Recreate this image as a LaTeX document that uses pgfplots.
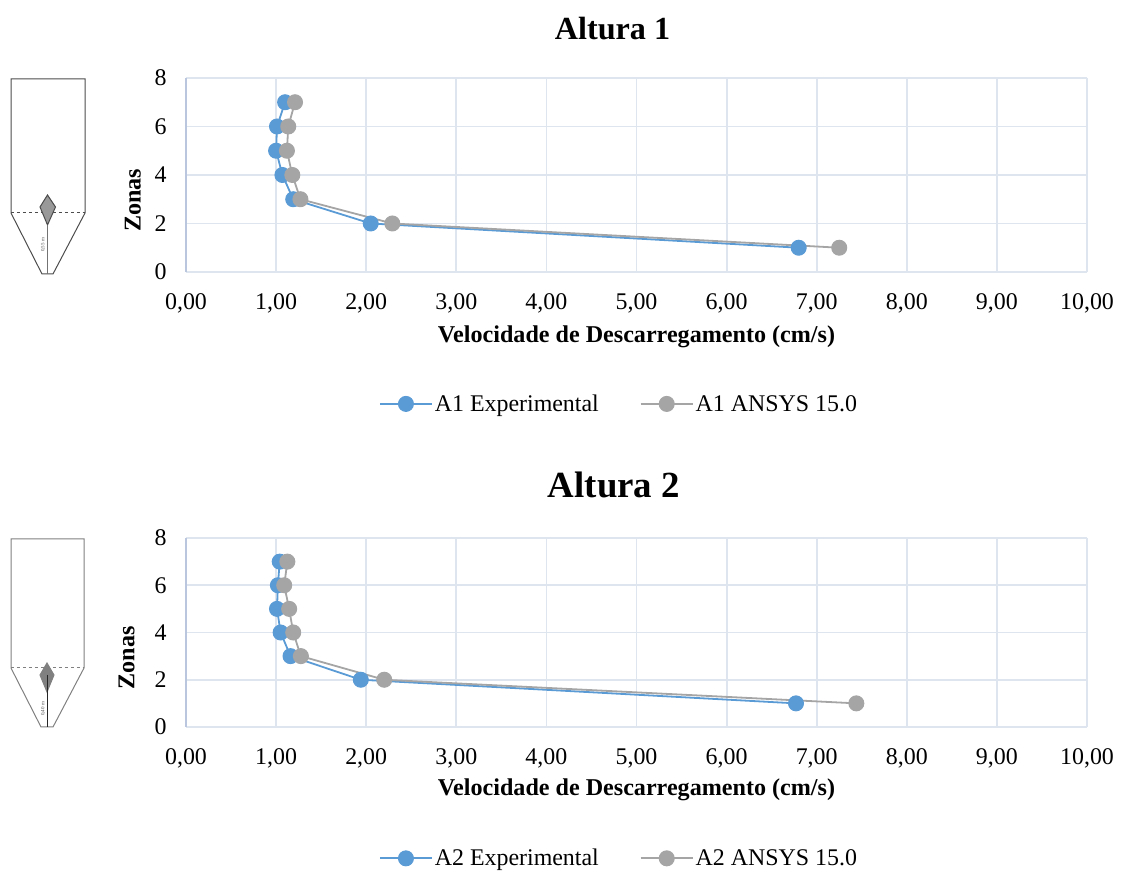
\documentclass[border=0pt]{standalone}
\usepackage{fontspec}
\setmainfont{Liberation Serif}
\usepackage{pgfplots}
\pgfplotsset{compat=1.18}
\definecolor{cblue}{HTML}{5B9BD5}
\definecolor{cgray}{HTML}{A5A5A5}
\definecolor{cgrid}{HTML}{DFE5EF}
\definecolor{caxis}{HTML}{B9C6DE}
\pgfplotsset{
  silo/.style={
    scale only axis, width=901bp, anchor=south west,
    xmin=0, xmax=10, ymin=0, ymax=8,
    xtick={0,1,...,10}, ytick={0,2,4,6,8},
    axis lines=left,
    axis line style={-, color=cgrid, line width=1.8bp},
    y axis line style={color=caxis},
    grid=major, grid style={cgrid, line width=1.8bp},
    major tick length=0pt,
    tick label style={font=\fontsize{24}{26}\selectfont},
    /pgf/number format/assume math mode=true,
    x tick label style={/pgf/number format/.cd, fixed, fixed zerofill, precision=2, use comma, assume math mode=true},
    xticklabel shift=18bp, yticklabel shift=16bp,
    xlabel={\textbf{Velocidade de Descarregamento (cm/s)}},
    ylabel={\textbf{Zonas}},
    label style={font=\fontsize{24.2}{26}\selectfont},
    legend columns=2,
    legend cell align=left,
    legend style={draw=none, fill=none, font=\fontsize{24}{26}\selectfont,
      /tikz/every even column/.append style={column sep=39bp}},
    legend image code/.code={
      \draw[#1, mark=none, line width=1.8bp] (0bp,0bp) -- (52bp,0bp);
      \draw[#1, only marks] plot coordinates {(26bp,0bp)};
    },
  },
  ser/.style={color=#1, line width=1.8bp, mark=*, mark size=7.5bp, mark options={fill=#1, draw=#1, solid, line width=1bp}},
}
\begin{document}
\begin{tikzpicture}[x=1bp,y=1bp]
\path[use as bounding box] (0,0) rectangle (1121,871);
% Titles
\node[font=\bfseries\fontsize{32.3}{36}\selectfont] at (612.5,842) {Altura 1};
\node[font=\bfseries\fontsize{37}{42}\selectfont] at (614,386) {Altura 2};
% Silo 1
\begin{scope}[draw=black!70, line width=1bp]
\draw (11,658) -- (11,792) -- (85,792) -- (85,658) -- (53,597) -- (42,597) -- cycle;
\draw[dashed] (11,658) -- (85,658);
\draw[fill=black!40] (47.5,676) -- (55.5,664) -- (47.5,646) -- (40,664) -- cycle;
\draw[line width=1.6bp, black!55] (47.5,646) -- (47.5,597);
\node[rotate=90, font=\fontsize{5}{6}\selectfont, text=black!70] at (43,626) {0,55 m};
\end{scope}
% Silo 2
\begin{scope}[draw=black!50, line width=1bp]
\draw (11,203) -- (11,332) -- (84,332) -- (84,203) -- (53,144) -- (41,144) -- cycle;
\draw[dashed] (11,203) -- (84,203);
\draw[fill=black!50] (47,208) -- (54,196) -- (47,179) -- (40,196) -- cycle;
\draw[line width=1bp, black!85] (47,196) -- (47,144);
\node[rotate=90, font=\fontsize{5}{6}\selectfont, text=black!70] at (43,162) {0,40 m};
\end{scope}
% Axis 1
\begin{axis}[silo, at={(186bp,599bp)}, height=194bp,
  xlabel style={at={(axis description cs:0.5,-0.336)},anchor=center},
  ylabel style={at={(axis description cs:-0.059,0.37)},anchor=center},
  legend style={at={(axis description cs:0.4806,-0.68)},anchor=center}]
\addplot[ser=cblue] coordinates {(6.80,1)(2.05,2)(1.19,3)(1.07,4)(1.00,5)(1.01,6)(1.10,7)};
\addplot[ser=cgray] coordinates {(7.25,1)(2.29,2)(1.27,3)(1.18,4)(1.12,5)(1.135,6)(1.21,7)};
\legend{A1 Experimental, A1 ANSYS 15.0}
\end{axis}
% Axis 2
\begin{axis}[silo, at={(186bp,144bp)}, height=189bp,
  xlabel style={at={(axis description cs:0.5,-0.33)},anchor=center},
  ylabel style={at={(axis description cs:-0.066,0.365)},anchor=center},
  legend style={at={(axis description cs:0.4806,-0.695)},anchor=center}]
\addplot[ser=cblue] coordinates {(6.77,1)(1.94,2)(1.16,3)(1.05,4)(1.01,5)(1.02,6)(1.04,7)};
\addplot[ser=cgray] coordinates {(7.44,1)(2.20,2)(1.275,3)(1.19,4)(1.145,5)(1.09,6)(1.125,7)};
\legend{A2 Experimental, A2 ANSYS 15.0}
\end{axis}
\end{tikzpicture}
\end{document}
